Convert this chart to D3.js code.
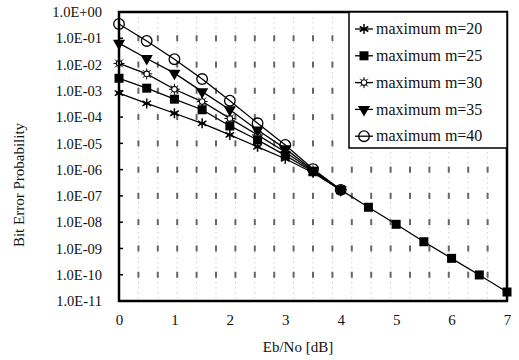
<!DOCTYPE html>
<html>
<head>
<meta charset="utf-8">
<script src="https://cdn.jsdelivr.net/npm/d3@7/dist/d3.min.js"></script>
<style>
  html, body { margin: 0; padding: 0; background: #fff; }
  svg { display: block; }
  svg text { font-family: "Liberation Serif", "DejaVu Serif", serif !important; fill: #111; }
</style>
</head>
<body>
<svg id="chart" width="519" height="360"></svg>
<script>
// Eb/No values (dB) for the measured points
const ebnoHead = [0, 0.5, 1, 1.5, 2, 2.5, 3, 3.5, 4];
const ebnoTail = [4.5, 5, 5.5, 6, 6.5, 7];

// Bit error probability per maximum m
const berM20 = [8.1e-4, 3.3e-4, 1.4e-4, 5.8e-5, 2.1e-5, 7.4e-6, 2.6e-6, 7.6e-7, 1.7e-7];
const berM25 = [3.0e-3, 1.26e-3, 4.8e-4, 1.9e-4, 4.6e-5, 1.35e-5, 3.5e-6, 8.3e-7, 1.7e-7];
const berM30 = [1.1e-2, 4.4e-3, 1.15e-3, 3.9e-4, 8.9e-5, 2.1e-5, 4.7e-6, 8.9e-7, 1.7e-7];
const berM35 = [6.5e-2, 1.7e-2, 4.7e-3, 9.3e-4, 1.9e-4, 3.2e-5, 6.3e-6, 9.5e-7, 1.7e-7];
const berM40 = [3.5e-1, 7.9e-2, 1.6e-2, 2.8e-3, 4.2e-4, 5.8e-5, 8.7e-6, 1.05e-6, 1.7e-7];
// Common high-SNR tail (all curves coincide)
const berTail = [3.7e-8, 8.3e-9, 1.8e-9, 4.2e-10, 9.8e-11, 2.2e-11];

const seriesNames = ["maximum m=20", "maximum m=25", "maximum m=30", "maximum m=35", "maximum m=40"];
const xTicks = [0, 1, 2, 3, 4, 5, 6, 7];
const yTicks = [1e0, 1e-1, 1e-2, 1e-3, 1e-4, 1e-5, 1e-6, 1e-7, 1e-8, 1e-9, 1e-10, 1e-11];
const xTitle = "Eb/No [dB]";
const yTitle = "Bit Error Probability";

const serif = "'Liberation Serif', 'DejaVu Serif', serif";
const svg = d3.select("#chart");
const plotL = 119, plotR = 507, plotT = 12, plotB = 301;

const x = d3.scaleLinear().domain([0, 7]).range([plotL, plotR]);
const y = d3.scaleLog().domain([1e-11, 1]).range([plotB, plotT]);

// Dotted vertical grid columns with darker marks at each decade
const gridCols = d3.range(1, 20).map(k => k * 0.35);
const grid = svg.append("g");
gridCols.forEach(c => {
  grid.append("line")
    .attr("x1", x(c)).attr("x2", x(c))
    .attr("y1", y(1)).attr("y2", y(1e-11))
    .attr("stroke", "#cfcfcf").attr("stroke-width", 1)
    .attr("stroke-dasharray", "1.5,3.5");
  yTicks.slice(1, -1).forEach(t => {
    grid.append("rect")
      .attr("x", x(c) - 1).attr("y", y(t) - 3)
      .attr("width", 2).attr("height", 6)
      .attr("fill", "#666");
  });
});

// Marker shapes
const sym = {
  asterisk: (g) => g.append("path")
    .attr("d", "M0,-5V5M-4.3,-2.5L4.3,2.5M-4.3,2.5L4.3,-2.5M-3,0H3")
    .attr("stroke", "#000").attr("stroke-width", 1.5).attr("fill", "none"),
  square: (g) => g.append("rect")
    .attr("x", -4.5).attr("y", -4.5).attr("width", 9).attr("height", 9)
    .attr("fill", "#000"),
  sun: (g) => {
    g.append("path")
      .attr("d", "M0,-5.5V5.5M-5.5,0H5.5M-3.9,-3.9L3.9,3.9M-3.9,3.9L3.9,-3.9")
      .attr("stroke", "#000").attr("stroke-width", 1);
    g.append("circle").attr("r", 2.8).attr("fill", "#fff")
      .attr("stroke", "#000").attr("stroke-width", 1.1);
  },
  triDown: (g) => g.append("path")
    .attr("d", d3.symbol(d3.symbolTriangle, 64)())
    .attr("transform", "rotate(180)")
    .attr("fill", "#000"),
  circle: (g) => g.append("circle").attr("r", 5.3)
    .attr("fill", "none").attr("stroke", "#000").attr("stroke-width", 1.3)
};

const series = [
  { name: seriesNames[0], xs: ebnoHead, ys: berM20, marker: sym.asterisk },
  { name: seriesNames[2], xs: ebnoHead, ys: berM30, marker: sym.sun },
  { name: seriesNames[3], xs: ebnoHead, ys: berM35, marker: sym.triDown },
  { name: seriesNames[4], xs: ebnoHead, ys: berM40, marker: sym.circle },
  { name: seriesNames[1], xs: ebnoHead.concat(ebnoTail), ys: berM25.concat(berTail), marker: sym.square }
];

const line = d3.line().x(d => x(d[0])).y(d => y(d[1]));
series.forEach(s => {
  const pts = s.xs.map((v, i) => [v, s.ys[i]]);
  svg.append("path").datum(pts)
    .attr("d", line).attr("fill", "none")
    .attr("stroke", "#000").attr("stroke-width", 1.3);
});
series.forEach(s => {
  s.xs.forEach((v, i) => {
    const g = svg.append("g").attr("transform", `translate(${x(v)},${y(s.ys[i])})`);
    s.marker(g);
  });
});

// Axes
const yAxis = d3.axisLeft(y).tickValues(yTicks)
  .tickFormat(d => {
    const e = Math.round(Math.log10(d));
    const sgn = e >= 0 ? "+" : "-";
    return "1.0E" + sgn + String(Math.abs(e)).padStart(2, "0");
  })
  .tickSize(0).tickPadding(17);
const gy = svg.append("g").attr("transform", `translate(${plotL},0)`).call(yAxis)
  .attr("font-family", serif);
gy.select(".domain").remove();
gy.selectAll("text").style("font-size", "14.5px").style("font-family", serif);

const xAxis = d3.axisBottom(x).tickValues(xTicks).tickFormat(d3.format("d"))
  .tickSize(0).tickPadding(13);
const gx = svg.append("g").attr("transform", `translate(0,${plotB})`).call(xAxis)
  .attr("font-family", serif);
gx.select(".domain").remove();
gx.selectAll("text").style("font-size", "15px").style("font-family", serif);

// Inward decade ticks on the left axis
yTicks.forEach(t => {
  svg.append("line").attr("x1", plotL).attr("x2", plotL + 4)
    .attr("y1", y(t)).attr("y2", y(t)).attr("stroke", "#000").attr("stroke-width", 1.5);
});

// Plot frame
svg.append("rect")
  .attr("x", plotL).attr("y", plotT)
  .attr("width", plotR - plotL).attr("height", plotB - plotT)
  .attr("fill", "none").attr("stroke", "#000").attr("stroke-width", 2.5);

// Axis titles
svg.append("text").attr("x", 298).attr("y", 352)
  .attr("text-anchor", "middle").style("font-size", "15px").style("font-family", serif)
  .text(xTitle);
svg.append("text")
  .attr("transform", "translate(24,185) rotate(-90)")
  .attr("text-anchor", "middle").style("font-size", "15px").style("font-family", serif)
  .text(yTitle);

// Legend
const legendOrder = [
  { name: seriesNames[0], marker: sym.asterisk },
  { name: seriesNames[1], marker: sym.square },
  { name: seriesNames[2], marker: sym.sun },
  { name: seriesNames[3], marker: sym.triDown },
  { name: seriesNames[4], marker: sym.circle }
];
const lg = svg.append("g");
lg.append("rect").attr("x", 349).attr("y", plotT).attr("width", plotR - 349).attr("height", 136)
  .attr("fill", "#fff").attr("stroke", "#000").attr("stroke-width", 1.5);
legendOrder.forEach((d, i) => {
  const cy = 29 + i * 26.8;
  lg.append("line").attr("x1", 355).attr("x2", 373).attr("y1", cy).attr("y2", cy)
    .attr("stroke", "#000").attr("stroke-width", 1.3);
  d.marker(lg.append("g").attr("transform", `translate(364,${cy})`));
  lg.append("text").attr("x", 376).attr("y", cy).attr("dy", "0.33em")
    .style("font-size", "16px").style("font-family", serif).text(d.name);
});
</script>
</body>
</html>
